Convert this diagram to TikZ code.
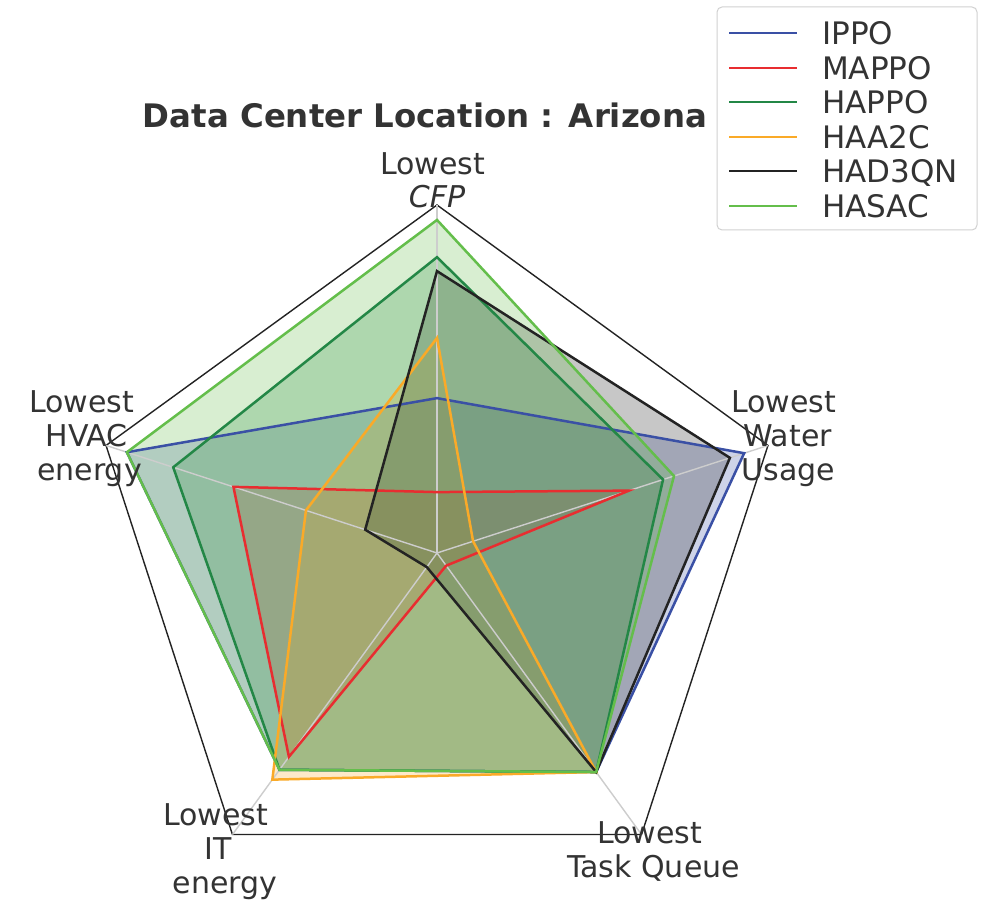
\documentclass[tikz,border=0pt]{standalone}
\usepackage{fontspec}
\setmainfont{DejaVu Sans}
\definecolor{cIPPO}{RGB}{58,80,165}
\definecolor{cMAPPO}{RGB}{232,45,48}
\definecolor{cHAPPO}{RGB}{35,135,70}
\definecolor{cHAAC}{RGB}{250,170,40}
\definecolor{cHAD}{RGB}{35,35,35}
\definecolor{cHASAC}{RGB}{100,190,75}
\definecolor{txt}{RGB}{51,51,51}
\definecolor{spoke}{RGB}{205,205,205}
\newcommand\radarfill[6]{%
  \fill[#1, fill opacity=0.25] (90:{#2*348}) -- (18:{#3*348}) -- (-54:{#4*348}) -- (-126:{#5*348}) -- (162:{#6*348}) -- cycle;}
\newcommand\radarline[6]{%
  \draw[#1, seriesline] (90:{#2*348}) -- (18:{#3*348}) -- (-54:{#4*348}) -- (-126:{#5*348}) -- (162:{#6*348}) -- cycle;}
\begin{document}
\begin{tikzpicture}[x=1pt,y=1pt,
  lbl/.style={font=\fontsize{30}{33}\selectfont, text=txt, anchor=base, inner sep=0pt},
  legtxt/.style={font=\fontsize{31}{34}\selectfont, text=txt, anchor=base west, inner sep=0pt},
  seriesline/.style={line width=2.5pt, line join=miter},
  legline/.style={line width=2.3pt},
  spokeline/.style={spoke, line width=1.4pt},
  framepoly/.style={cHAD, line width=1.4pt}]
\useasboundingbox (0,0) rectangle (987,900);
\fill[white] (0,0) rectangle (987,900);
\begin{scope}[shift={(437,347)}]
  \coordinate (ctr) at (0,0);
  \foreach \a/\n in {90/a,18/b,-54/c,-126/d,162/e} {
    \coordinate (ax\n) at (\a:348);
  }
  \draw[framepoly] (axa) -- (axb) -- (axc) -- (axd) -- (axe) -- cycle;
  % fills (CFP, Water, Task, IT, HVAC)
  \radarfill{cIPPO}{0.445}{0.928}{0.778}{0.770}{0.937}
  \radarfill{cMAPPO}{0.175}{0.580}{0.045}{0.724}{0.615}
  \radarfill{cHAPPO}{0.850}{0.683}{0.778}{0.770}{0.797}
  \radarfill{cHAAC}{0.618}{0.109}{0.778}{0.805}{0.396}
  \radarfill{cHAD}{0.810}{0.885}{0.778}{0.050}{0.217}
  \radarfill{cHASAC}{0.957}{0.716}{0.778}{0.770}{0.937}
  % spokes
  \foreach \n in {a,b,c,d,e} \draw[spokeline] (ctr) -- (ax\n);
  % lines
  \radarline{cIPPO}{0.445}{0.928}{0.778}{0.770}{0.937}
  \radarline{cMAPPO}{0.175}{0.580}{0.045}{0.724}{0.615}
  \radarline{cHAPPO}{0.850}{0.683}{0.778}{0.770}{0.797}
  \radarline{cHAAC}{0.618}{0.109}{0.778}{0.805}{0.396}
  \radarline{cHAD}{0.810}{0.885}{0.778}{0.050}{0.217}
  \radarline{cHASAC}{0.957}{0.716}{0.778}{0.770}{0.937}
\end{scope}
% axis labels
\node[lbl] (cfp1) at (432.5,725) {Lowest};
\node[lbl] (cfp2) at (437,692) {\itshape CFP};
\node[lbl] (wat1) at (783.5,487) {Lowest};
\node[lbl] (wat2) at (787.5,453) {Water};
\node[lbl] (wat3) at (788.5,419) {Usage};
\node[lbl] (tq1) at (649.5,57) {Lowest};
\node[lbl] (tq2) at (653.5,23) {Task Queue};
\node[lbl] (it1) at (215.5,75) {Lowest};
\node[lbl] (it2) at (218,41) {IT};
\node[lbl] (it3) at (225,7) {energy};
\node[lbl] (hv1) at (81.5,487) {Lowest};
\node[lbl] (hv2) at (86.5,453) {HVAC};
\node[lbl] (hv3) at (89.5,419) {energy};
% title
\node[anchor=base, inner sep=0pt, text=txt, font=\fontsize{32.4}{36}\selectfont\bfseries] (title) at (425,772) {Data Center Location : Arizona};
% legend
\draw[rounded corners=5pt, draw=black!18, fill=white, fill opacity=0.8, line width=1pt] (717,670) rectangle (977,893);
\foreach \c/\t/\y [count=\i] in {cIPPO/IPPO/867, cMAPPO/MAPPO/832, cHAPPO/HAPPO/798, cHAAC/HAA2C/763, cHAD/HAD3QN/729, cHASAC/HASAC/694} {
  \coordinate (ls\i) at (729,\y);
  \coordinate (le\i) at (797,\y);
  \draw[\c, legline] (ls\i) -- (le\i);
  \node[legtxt] (lt\i) at (822,\y-12) {\t};
}
\end{tikzpicture}
\end{document}
